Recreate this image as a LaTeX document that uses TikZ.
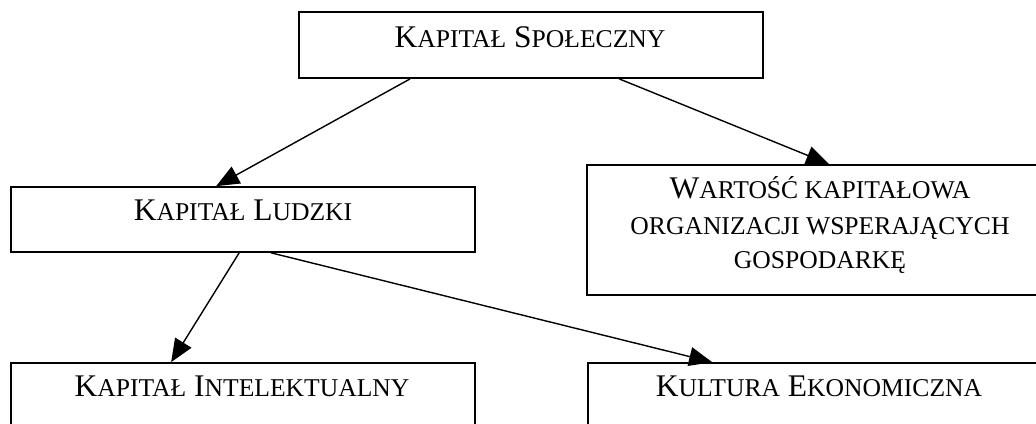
\documentclass[tikz,border=0pt]{standalone}
\usepackage{fontspec}
\setmainfont{Liberation Serif}
\usetikzlibrary{arrows.meta,calc}
\newcommand\smc[1]{{\fontsize{25.6pt}{29pt}\selectfont #1}}
\tikzset{
  box/.style={draw=black, line width=1.7pt, fill=white, rectangle, inner sep=0pt},
  txt/.style={anchor=base, inner sep=0pt, font=\fontsize{31.5pt}{36pt}\selectfont},
  arr/.style={line width=1.4pt, -{Triangle[length=23pt,width=19pt]}}
}
\begin{document}
\begin{tikzpicture}[x=1pt,y=-1pt]
\path[use as bounding box, clip] (0,0) rectangle (1036,423);
\fill[white] (0,0) rectangle (1036,423);
% boxes
\node[box, minimum width=464pt, minimum height=66pt] (spol) at (531,45) {};
\node[box, minimum width=464pt, minimum height=65pt] (ludz) at (243,219.5) {};
\node[box, minimum width=480pt, minimum height=130pt] (wart) at (827,230) {};
\node[box, minimum width=464pt, minimum height=70pt] (int) at (243,398) {};
\node[box, minimum width=480pt, minimum height=70pt] (kult) at (828,398) {};
% texts
\node[txt] (spolt) at (530,47) {K\smc{APITAŁ} S\smc{POŁECZNY}};
\node[txt] (ludzt) at (243,220) {K\smc{APITAŁ} L\smc{UDZKI}};
\node[txt] (wart1) at (820,198) {W\smc{ARTOŚĆ KAPITAŁOWA}};
\node[txt] (wart2) at (820,234) {\smc{ORGANIZACJI WSPERAJĄCYCH}};
\node[txt] (wart3) at (820,268) {\smc{GOSPODARKĘ}};
\node[txt] (intt) at (242,396) {K\smc{APITAŁ} I\smc{NTELEKTUALNY}};
\node[txt] (kultt) at (819,396) {K\smc{ULTURA} E\smc{KONOMICZNA}};
% connectors
\draw[arr] ($(spol.south west)+(112,0)$) -- ($(ludz.north west)+(206,0)$);
\draw[arr] ($(spol.south west)+(321,0)$) -- ($(wart.north west)+(243,0)$);
\draw[arr] ($(ludz.south west)+(229,0)$) -- ($(int.north west)+(161,0)$);
\draw[arr] ($(ludz.south west)+(261,0)$) -- ($(kult.north west)+(125,0)$);
\end{tikzpicture}
\end{document}
